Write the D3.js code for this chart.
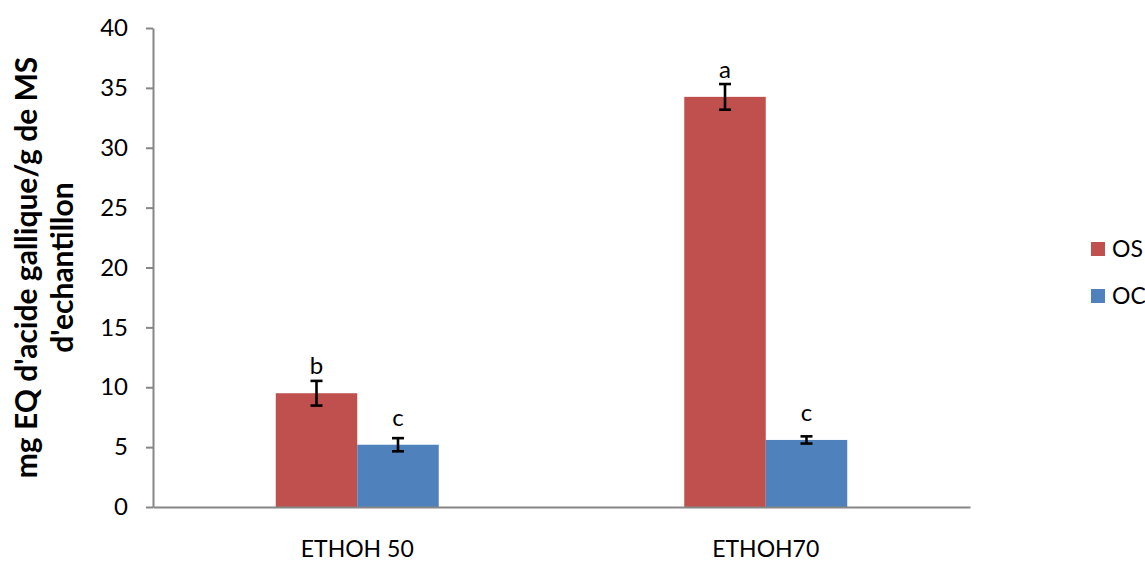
<!DOCTYPE html>
<html>
<head>
<meta charset="utf-8">
<script src="https://cdn.jsdelivr.net/npm/d3@7/dist/d3.min.js"></script>
<style>
  html, body { margin: 0; padding: 0; background: #fff; }
  svg { display: block; font-family: Lato, "Open Sans", sans-serif; }
</style>
</head>
<body>
<svg id="chart" width="1145" height="561"></svg>
<script>
// ---- data ----
const categories = ["ETHOH 50", "ETHOH70"];
const series = ["OS", "OC"];
const osValues = [9.5, 34.25];
const ocValues = [5.2, 5.6];
const osErrors = [1.03, 1.07];
const ocErrors = [0.55, 0.3];
const osLetters = ["b", "a"];
const ocLetters = ["c", "c"];
const yTicks = [0, 5, 10, 15, 20, 25, 30, 35, 40];
const yTitleLines = ["mg EQ d'acide gallique/g de MS", "d'echantillon"];
const colors = { OS: "#C0504D", OC: "#4F81BD" };

(function () {
const rows = [];
categories.forEach((c, i) => {
  rows.push({ cat: c, s: "OS", v: osValues[i], e: osErrors[i], l: osLetters[i] });
  rows.push({ cat: c, s: "OC", v: ocValues[i], e: ocErrors[i], l: ocLetters[i] });
});

// ---- layout ----
const svg = d3.select("#chart");
const mLeft = 153, mRight = 970, mTop = 28, mBottom = 507;
const axisColor = "#868686";

const y = d3.scaleLinear().domain([0, 40]).range([mBottom, mTop]);
const x0 = d3.scaleBand().domain(categories).range([mLeft, mRight]).padding(0);
const groupW = x0.bandwidth() * 0.399;
const x1 = d3.scaleBand().domain(series).range([0, groupW]).padding(0);
const gx = c => x0(c) + (x0.bandwidth() - groupW) / 2;

// bars
svg.append("g").selectAll("rect").data(rows).join("rect")
  .attr("x", d => gx(d.cat) + x1(d.s))
  .attr("y", d => y(d.v))
  .attr("width", x1.bandwidth())
  .attr("height", d => y(0) - y(d.v))
  .attr("fill", d => colors[d.s]);

// error bars
const eg = svg.append("g").attr("stroke", "#000").attr("stroke-width", 2.6).attr("fill", "none");
rows.forEach(d => {
  const cx = gx(d.cat) + x1(d.s) + x1.bandwidth() / 2;
  const y1 = y(d.v + d.e), y2 = y(d.v - d.e);
  eg.append("line").attr("x1", cx).attr("x2", cx).attr("y1", y1).attr("y2", y2);
  eg.append("line").attr("x1", cx - 6).attr("x2", cx + 6).attr("y1", y1).attr("y2", y1);
  eg.append("line").attr("x1", cx - 6).attr("x2", cx + 6).attr("y1", y2).attr("y2", y2);
});

// letters
svg.append("g").selectAll("text").data(rows).join("text")
  .attr("x", d => gx(d.cat) + x1(d.s) + x1.bandwidth() / 2)
  .attr("y", d => y(d.v) - 19)
  .attr("text-anchor", "middle")
  .attr("font-size", 24)
  .attr("fill", "#000")
  .text(d => d.l);

// y axis
const yAxis = svg.append("g").attr("transform", `translate(${mLeft},0)`)
  .call(d3.axisLeft(y).tickValues(yTicks).tickSize(7).tickPadding(18).tickSizeOuter(0));
yAxis.select(".domain").attr("stroke", axisColor).attr("stroke-width", 2);
yAxis.selectAll(".tick line").attr("stroke", axisColor).attr("stroke-width", 2);
yAxis.selectAll(".tick text").attr("font-size", 24).attr("fill", "#000")
  .attr("font-family", "Lato, sans-serif");

// x axis
const xAxis = svg.append("g").attr("transform", `translate(0,${mBottom})`)
  .call(d3.axisBottom(x0).tickSize(0).tickPadding(0).tickSizeOuter(0));
xAxis.select(".domain").attr("stroke", axisColor).attr("stroke-width", 2);
xAxis.selectAll(".tick text").attr("font-size", 23).attr("fill", "#000")
  .attr("font-family", "Lato, sans-serif")
  .attr("dy", 0).attr("y", 50);

// y title
const tg = svg.append("g").attr("transform", `translate(0,${(mTop + mBottom) / 2})`);
yTitleLines.forEach((t, i) => {
  tg.append("text")
    .attr("transform", `translate(${37 + i * 36},0) rotate(-90)`)
    .attr("text-anchor", "middle")
    .attr("font-size", 30)
    .attr("font-weight", "bold")
    .attr("fill", "#000")
    .text(t);
});

// legend
const lg = svg.append("g");
series.forEach((s, i) => {
  const cy = 249 + i * 47;
  lg.append("rect").attr("x", 1091).attr("y", cy - 7).attr("width", 14).attr("height", 14)
    .attr("fill", colors[s]);
  lg.append("text").attr("x", 1112).attr("y", cy).attr("dy", "0.36em")
    .attr("font-size", 23).attr("fill", "#000").text(s);
});
})();
</script>
</body>
</html>
